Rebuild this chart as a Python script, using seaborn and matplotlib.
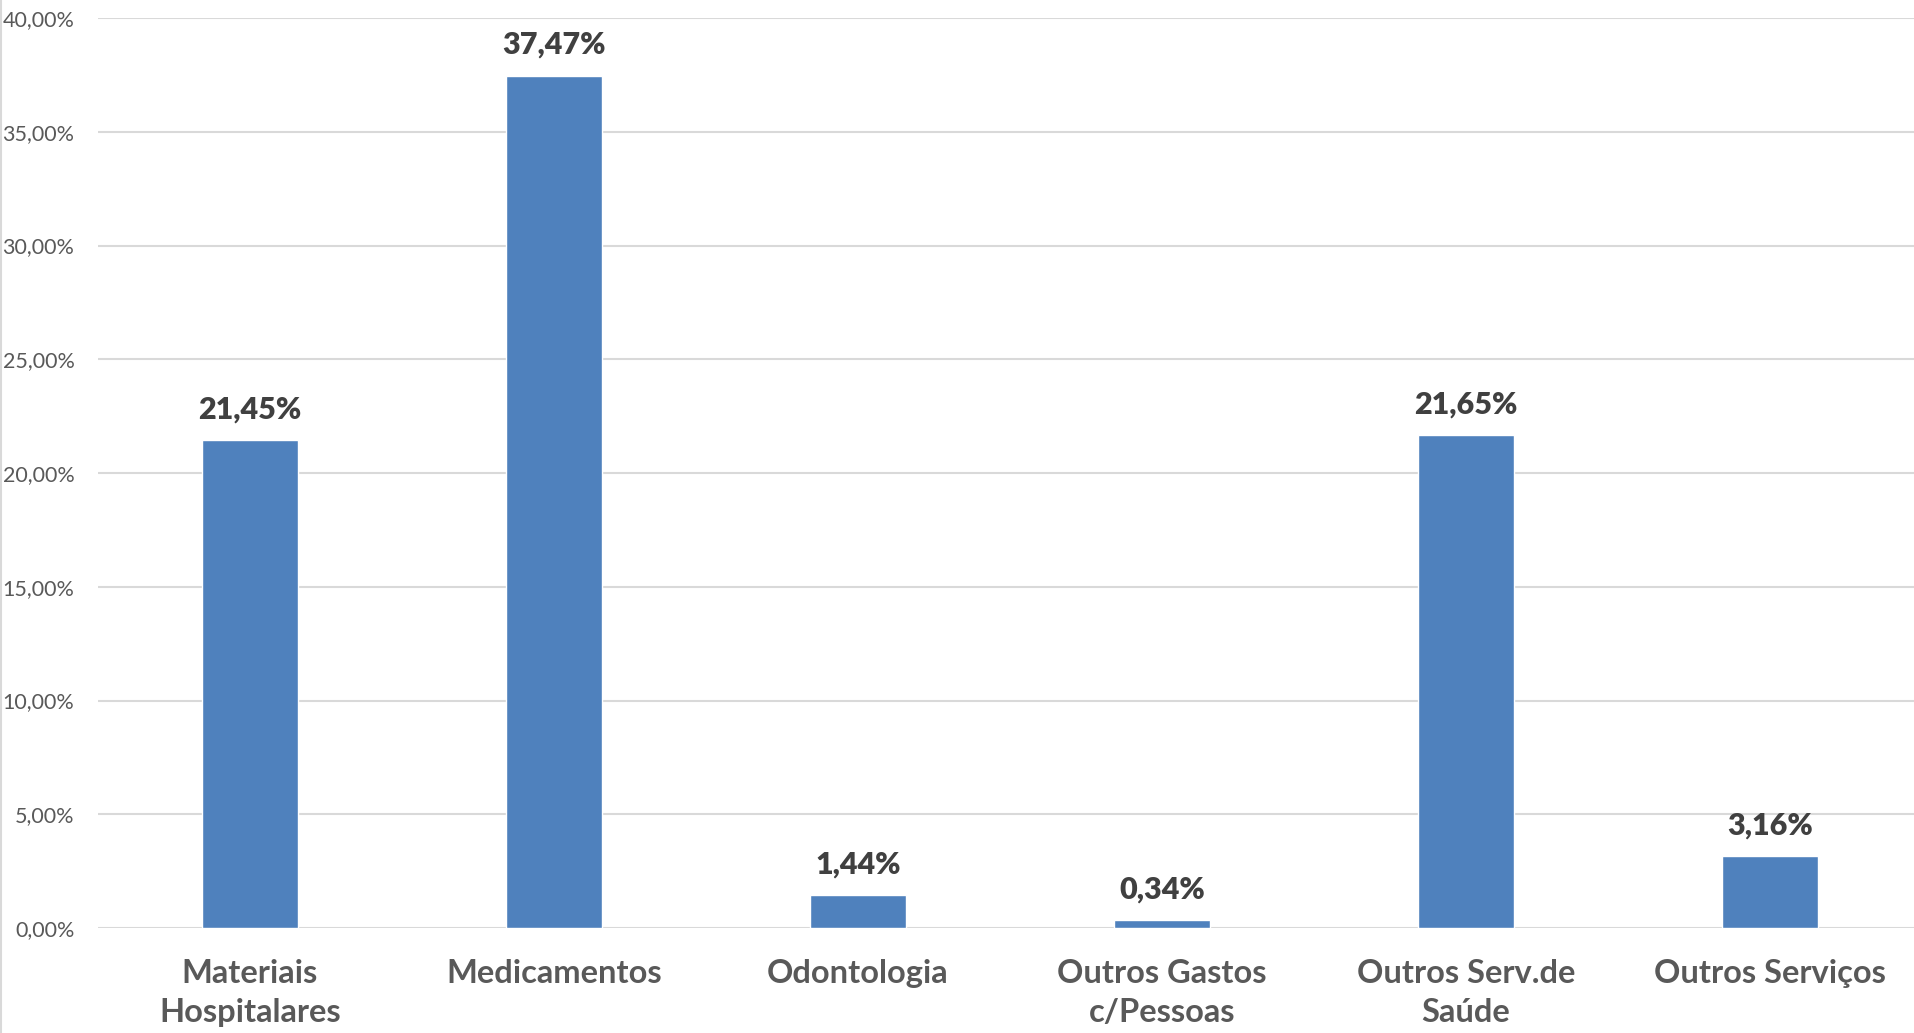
import matplotlib
matplotlib.use("Agg")
import matplotlib.pyplot as plt
import seaborn as sns
from matplotlib.ticker import FuncFormatter

categories = ["Materiais\nHospitalares", "Medicamentos", "Odontologia",
              "Outros Gastos\nc/Pessoas", "Outros Serv.de\nSaúde", "Outros Serviços"]
values = [21.45, 37.47, 1.44, 0.34, 21.65, 3.16]
y_ticks = [0, 5, 10, 15, 20, 25, 30, 35, 40]

sns.set_theme(style="white")
plt.rcParams['font.family'] = ['Lato', 'DejaVu Sans']

fig = plt.figure(figsize=(19.15, 10.33), dpi=100)
ax = fig.add_axes([98/1915, 105/1033, (1922-98)/1915, (928-18)/1033])

sns.barplot(x=categories, y=values, color="#4F81BD", saturation=1, width=0.315, ax=ax, zorder=3)

ax.set_ylim(0, 40)
ax.set_xlim(-0.5, len(categories) - 0.5)
ax.set_yticks(y_ticks)
ax.yaxis.set_major_formatter(FuncFormatter(lambda v, p: f"{v:.2f}".replace(".", ",") + "%"))
ax.grid(axis="y", color="#D9D9D9", linewidth=1.5, zorder=0)
ax.set_axisbelow(True)
for s in ax.spines.values():
    s.set_visible(False)
ax.tick_params(axis="y", length=0, pad=17, labelsize=15.5, labelcolor="#595959")
ax.tick_params(axis="x", length=0, pad=22, labelsize=23.5, labelcolor="#595959")
for t in ax.get_xticklabels():
    t.set_fontweight("bold")
    t.set_linespacing(1.45)
ax.set_xlabel("")
ax.set_ylabel("")

for i, v in enumerate(values):
    ax.annotate(f"{v:.2f}".replace(".", ",") + "%", (i, v), xytext=(0, 12),
                textcoords="offset points", ha="center", va="bottom",
                fontsize=22, fontweight="heavy", color="#404040")

fig.add_artist(plt.Line2D([1/1915, 1/1915], [0, 1], color="#D9D9D9", linewidth=1.5,
                          transform=fig.transFigure))

fig.savefig("out.png", dpi=100)
